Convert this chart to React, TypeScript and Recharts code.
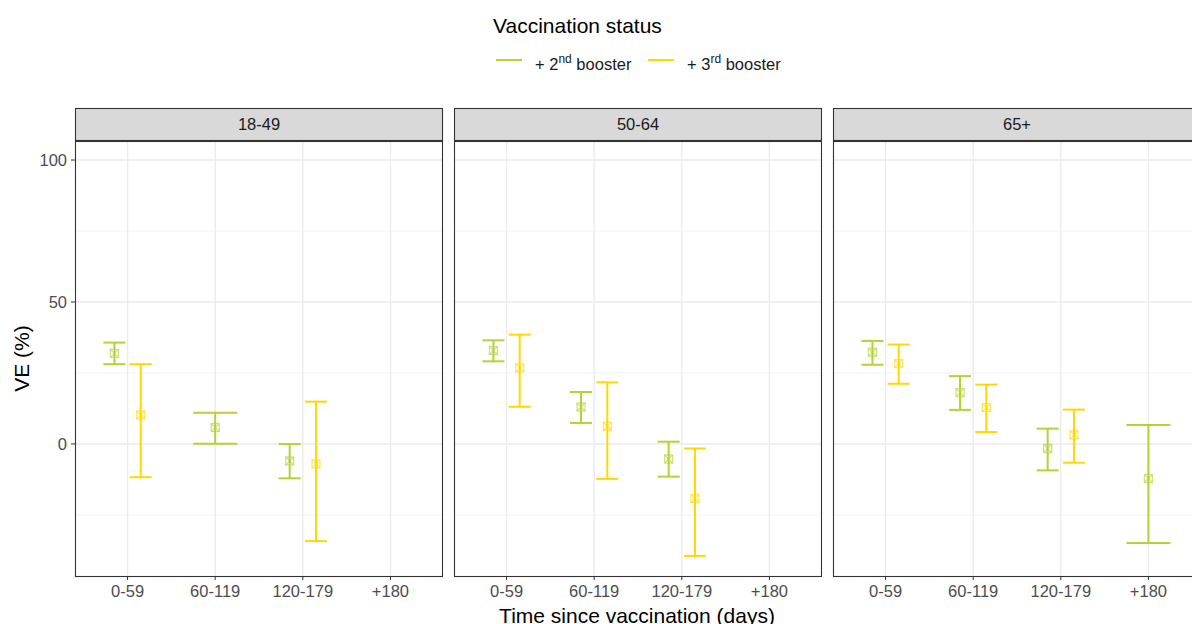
import React from 'react';
import { ComposedChart, Scatter, ErrorBar, XAxis, YAxis, ReferenceLine } from 'recharts';

const categories = ['0-59', '60-119', '120-179', '+180'];
const panelNames = ['18-49', '50-64', '65+'];

// + 2nd booster
const b2Ve1849 = [31.9, 5.8, -6.0, null];
const b2Lo1849 = [28.1, 0.1, -12.1, null];
const b2Hi1849 = [35.7, 11.0, 0.0, null];
const b2Ve5064 = [32.9, 13.0, -5.3, null];
const b2Lo5064 = [29.1, 7.4, -11.5, null];
const b2Hi5064 = [36.5, 18.3, 0.8, null];
const b2Ve65 = [32.3, 18.1, -1.6, -12.2];
const b2Lo65 = [27.9, 12.0, -9.3, -34.9];
const b2Hi65 = [36.3, 23.9, 5.4, 6.7];

// + 3rd booster
const b3Ve1849 = [10.2, null, -7.0, null];
const b3Lo1849 = [-11.7, null, -34.2, null];
const b3Hi1849 = [28.1, null, 14.9, null];
const b3Ve5064 = [26.8, 6.2, -19.2, null];
const b3Lo5064 = [13.1, -12.3, -39.4, null];
const b3Hi5064 = [38.5, 21.7, -1.6, null];
const b3Ve65 = [28.3, 12.8, 3.2, null];
const b3Lo65 = [21.2, 4.2, -6.6, null];
const b3Hi65 = [35.0, 20.9, 12.1, null];

const yTicks = [0, 50, 100];
const yMinor = [-25, 25, 75];
const yDomain: [number, number] = [-46.5, 106.7];
const xDomain: [number, number] = [0.4, 4.6];

const GREEN = '#b3d236';
const YELLOW = '#fdd900';
const FONT = '"Liberation Sans", Arial, sans-serif';

type Series = { ve: (number | null)[]; lo: (number | null)[]; hi: (number | null)[] };
const panelData: { b2: Series; b3: Series }[] = [
  { b2: { ve: b2Ve1849, lo: b2Lo1849, hi: b2Hi1849 }, b3: { ve: b3Ve1849, lo: b3Lo1849, hi: b3Hi1849 } },
  { b2: { ve: b2Ve5064, lo: b2Lo5064, hi: b2Hi5064 }, b3: { ve: b3Ve5064, lo: b3Lo5064, hi: b3Hi5064 } },
  { b2: { ve: b2Ve65, lo: b2Lo65, hi: b2Hi65 }, b3: { ve: b3Ve65, lo: b3Lo65, hi: b3Hi65 } },
];

const DODGE = 0.15;

function buildPanel(p: { b2: Series; b3: Series }) {
  const out = { g2: [] as any[], g3: [] as any[], s2: [] as any[], s3: [] as any[] };
  categories.forEach((_, i) => {
    const has2 = p.b2.ve[i] != null;
    const has3 = p.b3.ve[i] != null;
    const pt = (s: Series, x: number) => ({
      x,
      ve: s.ve[i] as number,
      err: [(s.ve[i] as number) - (s.lo[i] as number), (s.hi[i] as number) - (s.ve[i] as number)],
    });
    if (has2 && has3) {
      out.g2.push(pt(p.b2, i + 1 - DODGE));
      out.g3.push(pt(p.b3, i + 1 + DODGE));
    } else if (has2) {
      out.s2.push(pt(p.b2, i + 1));
    } else if (has3) {
      out.s3.push(pt(p.b3, i + 1));
    }
  });
  return out;
}

const makeShape = (color: string) => (props: any) => {
  const { cx, cy } = props;
  if (cx == null || cy == null) return <g />;
  const h = 4;
  return (
    <g stroke={color} strokeOpacity={0.6} strokeWidth={1.3} fill="none">
      <rect x={cx - h} y={cy - h} width={2 * h} height={2 * h} />
      <line x1={cx - h} y1={cy - h} x2={cx + h} y2={cy + h} />
      <line x1={cx - h} y1={cy + h} x2={cx + h} y2={cy - h} />
    </g>
  );
};

const PLOT_W = 368;
const PLOT_H = 435;
const PLOT_TOP = 141;
const panelLefts = [75, 454, 833];

function Panel({ idx }: { idx: number }) {
  const d = buildPanel(panelData[idx]);
  const showY = idx === 0;
  const yw = 75;
  const width = showY ? PLOT_W + yw : PLOT_W;
  const left = showY ? panelLefts[idx] - yw : panelLefts[idx];
  const tickStyle = { fill: '#4d4d4d', fontSize: 16.5, fontFamily: FONT };
  return (
    <div style={{ position: 'absolute', left, top: PLOT_TOP }}>
      <ComposedChart width={width} height={PLOT_H + 40} margin={{ top: 0, right: 0, bottom: 0, left: 0 }}>
        <XAxis
          type="number"
          dataKey="x"
          domain={xDomain}
          ticks={[1, 2, 3, 4]}
          tickFormatter={(v: number) => categories[v - 1]}
          allowDataOverflow
          height={40}
          axisLine={false}
          tickLine={{ stroke: '#333333' }}
          tickSize={4}
          tickMargin={5}
          tick={tickStyle}
          interval={0}
        />
        <YAxis
          type="number"
          dataKey="ve"
          domain={yDomain}
          ticks={yTicks}
          allowDataOverflow
          hide={!showY}
          width={yw}
          axisLine={false}
          tickLine={{ stroke: '#333333' }}
          tickSize={4}
          tickMargin={4}
          tick={tickStyle}
        />
        {yMinor.map((v) => (
          <ReferenceLine key={'m' + v} y={v} stroke="#f3f3f3" strokeWidth={1} />
        ))}
        {yTicks.map((v) => (
          <ReferenceLine key={'y' + v} y={v} stroke="#ebebeb" strokeWidth={1.4} />
        ))}
        {[1, 2, 3, 4].map((v) => (
          <ReferenceLine key={'x' + v} x={v} stroke="#ebebeb" strokeWidth={1.4} />
        ))}
        {d.g2.length > 0 && (
          <Scatter data={d.g2} fill={GREEN} shape={makeShape(GREEN)} isAnimationActive={false}>
            <ErrorBar dataKey="err" direction="y" width={11} stroke={GREEN} strokeWidth={2} />
          </Scatter>
        )}
        {d.g3.length > 0 && (
          <Scatter data={d.g3} fill={YELLOW} shape={makeShape(YELLOW)} isAnimationActive={false}>
            <ErrorBar dataKey="err" direction="y" width={11} stroke={YELLOW} strokeWidth={2} />
          </Scatter>
        )}
        {d.s2.length > 0 && (
          <Scatter data={d.s2} fill={GREEN} shape={makeShape(GREEN)} isAnimationActive={false}>
            <ErrorBar dataKey="err" direction="y" width={22} stroke={GREEN} strokeWidth={2} />
          </Scatter>
        )}
        {d.s3.length > 0 && (
          <Scatter data={d.s3} fill={YELLOW} shape={makeShape(YELLOW)} isAnimationActive={false}>
            <ErrorBar dataKey="err" direction="y" width={22} stroke={YELLOW} strokeWidth={2} />
          </Scatter>
        )}
      </ComposedChart>
    </div>
  );
}

export default function App() {
  return (
    <div
      style={{
        position: 'absolute',
        left: 0,
        top: 0,
        width: 1192,
        height: 624,
        overflow: 'hidden',
        background: '#ffffff',
        fontFamily: FONT,
      }}
    >
      {panelNames.map((_, i) => (
        <Panel key={i} idx={i} />
      ))}
      <svg
        width={1192}
        height={624}
        style={{ position: 'absolute', left: 0, top: 0, pointerEvents: 'none' }}
        fontFamily={FONT}
      >
        {panelNames.map((name, i) => (
          <g key={name}>
            <rect x={panelLefts[i] + 0.5} y={PLOT_TOP + 0.5} width={PLOT_W - 1} height={PLOT_H} fill="none" stroke="#333333" strokeWidth={1.1} />
            <rect x={panelLefts[i] + 0.5} y={108.5} width={PLOT_W - 1} height={32} fill="#d9d9d9" stroke="#333333" strokeWidth={1.1} />
            <text x={panelLefts[i] + PLOT_W / 2} y={130} textAnchor="middle" fontSize={16.5} fill="#1a1a1a">
              {name}
            </text>
          </g>
        ))}
        {/* legend */}
        <text x={493} y={32.5} fontSize={21} fill="#000">Vaccination status</text>
        <line x1={496} y1={60} x2={522} y2={60} stroke={GREEN} strokeWidth={2} />
        <text x={535} y={70} fontSize={16.5} fill="#1a1a1a">
          + 2<tspan fontSize={12} dy={-7}>nd</tspan>
          <tspan dy={7}> booster</tspan>
        </text>
        <line x1={648} y1={60} x2={674} y2={60} stroke={YELLOW} strokeWidth={2} />
        <text x={687} y={70} fontSize={16.5} fill="#1a1a1a">
          + 3<tspan fontSize={12} dy={-7}>rd</tspan>
          <tspan dy={7}> booster</tspan>
        </text>
        {/* axis titles */}
        <text x={637} y={623} textAnchor="middle" fontSize={21} fill="#000">Time since vaccination (days)</text>
        <text x={0} y={0} transform="translate(29,358.5) rotate(-90)" textAnchor="middle" fontSize={21} fill="#000">VE (%)</text>
      </svg>
    </div>
  );
}
